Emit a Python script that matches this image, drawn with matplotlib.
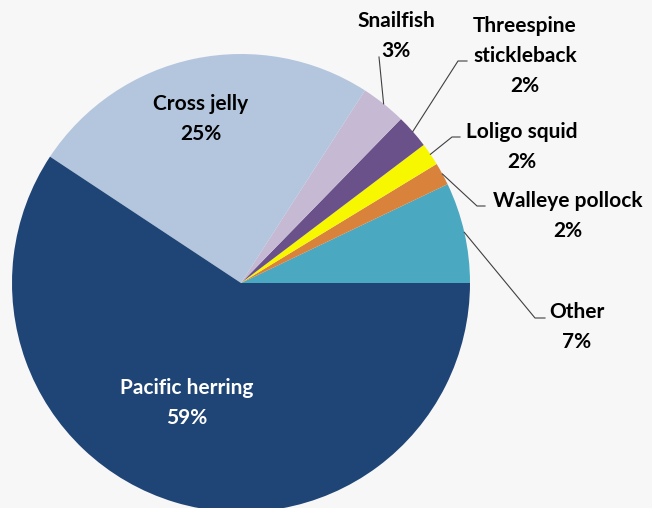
import matplotlib.pyplot as plt
import numpy as np

# Anteile in Prozent (gegen den Uhrzeigersinn ab 3 Uhr)
species = ['Other', 'Walleye pollock', 'Loligo squid', 'Threespine\nstickleback',
           'Snailfish', 'Cross jelly', 'Pacific herring']
shares = [7.1, 1.6, 1.6, 2.4, 3.2, 24.8, 59.3]
colors = ['#4aa8c1', '#d9823b', '#f7f700', '#6a5189', '#c5b9d4', '#b3c6de', '#1f4476']

# Textpositionen in Bildpixeln (x, y von oben)
label_pos = [(577, 327), (568, 216), (522, 147), (525, 56), (396, 36), (201, 119), (187, 403)]
# Knickpunkte der Verbindungslinien (None = Beschriftung im Segment)
elbows = [[(535, 318), (545, 318)], [(477, 206), (485, 206)], [(452, 137), (460, 137)],
          [(458, 61), (467, 61)], [(379, 57)], None, None]

W, H = 652, 508
cx, cy, r = 241, 283, 229

plt.rcParams['font.family'] = ['Lato', 'DejaVu Sans']
fig = plt.figure(figsize=(W / 100, H / 100), dpi=100, facecolor='#f7f7f7')
ax = fig.add_axes([0, 0, 1, 1])
ax.set_facecolor('#f7f7f7')

wedges, _ = ax.pie(shares, colors=colors, startangle=0, counterclock=True,
                   center=(cx, H - cy), radius=r, frame=True,
                   wedgeprops=dict(linewidth=0))
ax.set_xlim(0, W)
ax.set_ylim(0, H)
ax.set_aspect('equal')
ax.axis('off')

for w, name, v, (tx, ty), elb in zip(wedges, species, shares, label_pos, elbows):
    txt = f'{name}\n{v:.0f}%'
    col = 'white' if name == 'Pacific herring' else 'black'
    ax.text(tx, H - ty, txt, ha='center', va='center', fontsize=15,
            fontweight='bold', color=col, linespacing=1.62)
    if elb:
        mid = np.deg2rad((w.theta1 + w.theta2) / 2)
        xs = [cx + r * np.cos(mid)] + [p[0] for p in elb]
        ys = [H - cy + r * np.sin(mid)] + [H - p[1] for p in elb]
        ax.plot(xs, ys, color='#404040', linewidth=0.8)

fig.savefig('out.png', dpi=100, facecolor=fig.get_facecolor())
